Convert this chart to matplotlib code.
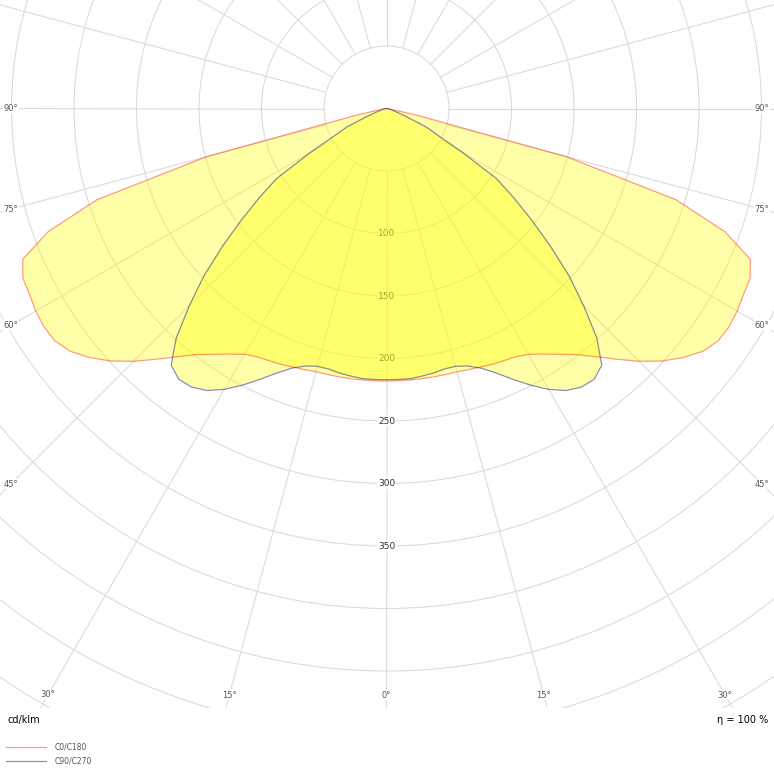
import numpy as np
import matplotlib
matplotlib.use("Agg")
import matplotlib.pyplot as plt
from matplotlib.patches import Rectangle

# vertical angles (deg from nadir) and intensities in cd/klm
gamma = [0, 2.5, 5, 7.5, 10, 12.5, 15, 17.5, 20, 22.5, 25, 27.5, 30, 32.5,
         35, 37.5, 40, 42.5, 45, 47.5, 50, 52.5, 55, 57.5, 60, 62.5, 65,
         67.5, 70, 72.5, 75, 77.5, 80, 82.5, 85, 87.5, 90]
c0_c180 = [218, 218, 218, 218, 218, 218, 218, 219, 220, 221.5, 222.5, 224,
           227, 233, 240, 248, 259, 272, 286, 299, 310, 319, 324, 325, 324,
           322, 321, 315, 288, 243, 149, 25, 5, 2, 1, 0.5, 0]
c90_c270 = [217, 217, 217, 216, 215, 213.5, 213.5, 216, 221, 229, 239, 249.5,
            259.5, 267.5, 272, 273, 268, 249, 223, 198, 171, 146, 124, 104,
            70, 46, 35, 18, 10, 6, 4, 3, 2, 1.5, 1, 0.5, 0]

ring_labels = [100, 150, 200, 250, 300, 350]
angle_labels = [0, 15, 30, 45, 60, 75, 90]

W = 774
CX, CY = 386.5, 108.5      # pole position in pixels (from top-left)
PX = 1.25                  # pixels per cd/klm
RMAX = 600
BOTTOM = 708               # grid is cut off here (pixels from top)

fig = plt.figure(figsize=(W / 100, W / 100), dpi=100)
rad = RMAX * PX
ax = fig.add_axes([(CX - rad) / W, (W - CY - rad) / W, 2 * rad / W, 2 * rad / W],
                  projection="polar")
ax.set_theta_zero_location("S")
ax.set_ylim(0, RMAX)
ax.set_xticks(np.deg2rad(np.arange(0, 360, 15)))
ax.set_yticks(np.arange(50, RMAX + 1, 50))
ax.xaxis.set_ticklabels([])
ax.yaxis.set_ticklabels([])
ax.set_axisbelow(True)
ax.grid(color="#dadada", lw=0.75)
ax.spines["polar"].set_visible(False)

# no spokes inside the first ring
t = np.linspace(0, 2 * np.pi, 300)
ax.fill(t, np.full_like(t, 49.3), color="white", lw=0, zorder=1)

g = np.array(gamma, dtype=float)


def closed(vals):
    v = np.array(vals, dtype=float)
    th = np.deg2rad(np.concatenate([-g[::-1], g[1:]]))
    r = np.concatenate([v[::-1], v[1:]])
    return th, r


# ring values, under the fills
for v in ring_labels:
    ax.text(0, v, str(v), ha="center", va="center", fontsize=6.5, color="#333333",
            bbox=dict(facecolor="white", edgecolor="none", pad=0.6), zorder=1.5)

th0, r0 = closed(c0_c180)
th9, r9 = closed(c90_c270)
ax.fill(th0, r0, color="#ffff00", alpha=0.34, lw=0, zorder=2)
ax.fill(th9, r9, color="#ffff00", alpha=0.34, lw=0, zorder=2)
l0, = ax.plot(th0, r0, color="red", alpha=0.4, lw=0.9, zorder=3, label="C0/C180")
l9, = ax.plot(th9, r9, color="#000080", alpha=0.45, lw=0.9, zorder=3, label="C90/C270")

# angle labels sit where the spokes meet the frame
half_w = (W - 12 - CX) / PX
low = (695 - CY) / PX
for a in angle_labels:
    s, c = np.sin(np.deg2rad(a)), np.cos(np.deg2rad(a))
    r = min(half_w / s if s > 1e-9 else 1e9, low / c if c > 1e-9 else 1e9)
    for side in (-1, 1):
        ax.text(side * np.deg2rad(a), r, f"{a}°", ha="center", va="center",
                fontsize=6, color="#555555",
                bbox=dict(facecolor="white", edgecolor="none", pad=0.3), zorder=4)

# cut the grid off above the legend strip
fig.add_artist(Rectangle((0, 0), 1, (W - BOTTOM) / W, transform=fig.transFigure,
                         facecolor="white", edgecolor="none", zorder=5))

fig.text(8 / W, 1 - 720 / W, "cd/klm", ha="left", va="center", fontsize=7, zorder=6)
fig.text(768 / W, 1 - 720 / W, "η = 100 %", ha="right", va="center", fontsize=7, zorder=6)

leg = fig.legend(handles=[l0, l9], loc="lower left", bbox_to_anchor=(6 / W, 8 / W),
                 frameon=False, fontsize=5.5, handlelength=5.2, handletextpad=1.2,
                 labelspacing=0.75, borderaxespad=0, borderpad=0)
leg.set_zorder(6)
for txt in leg.get_texts():
    txt.set_color("#555555")

fig.savefig("out.png", dpi=100, facecolor="white")
